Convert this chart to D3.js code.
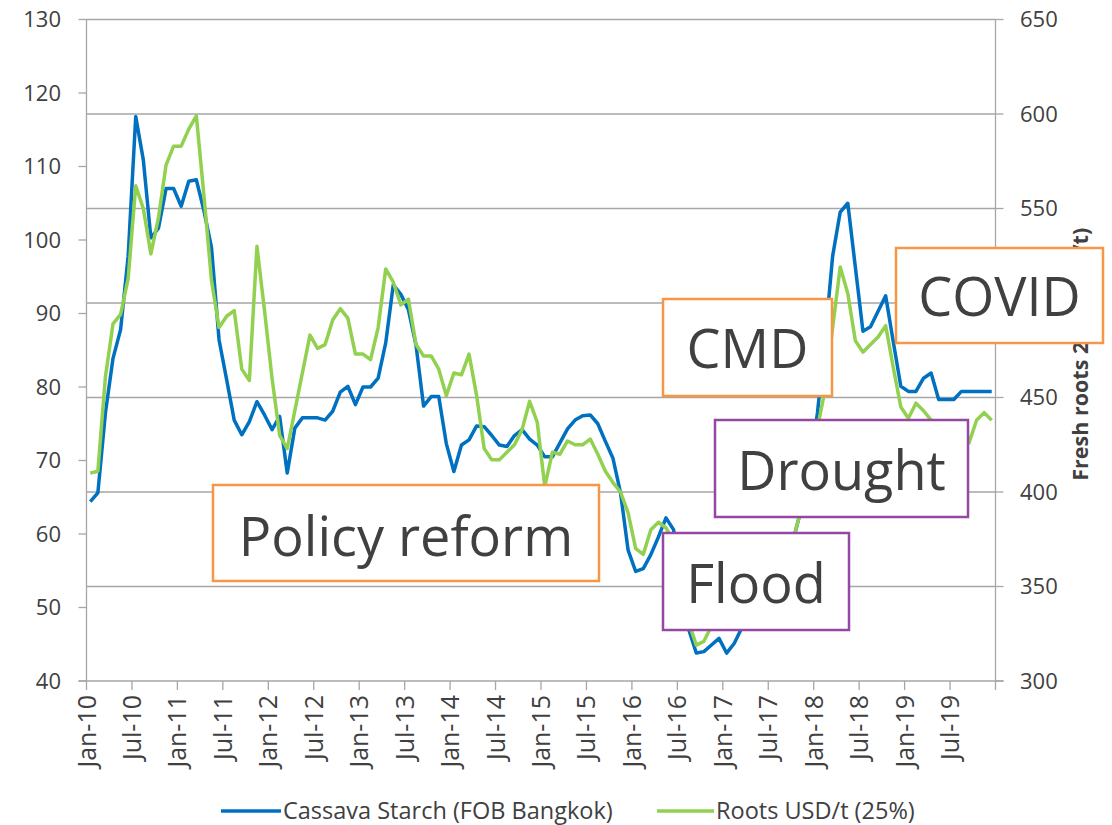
<!DOCTYPE html>
<html>
<head>
<meta charset="utf-8">
<script src="https://cdn.jsdelivr.net/npm/d3@7"></script>
<style>
  body { margin: 0; background: #fff; }
  text { font-family: "Open Sans", sans-serif; fill: #404040; }
</style>
</head>
<body>
<div id="chartDiv"></div>
<script>
// monthly values, Jan-10 .. Dec-19
const starch = [
  64.4, 65.6, 76.5, 83.9, 87.8, 97.8, 116.8, 110.9, 100.3, 101.6, 107.0, 107.0,
  104.6, 108.0, 108.2, 104.0, 99.0, 86.4, 81.0, 75.5, 73.5, 75.3, 78.0, 76.2,
  74.2, 76.0, 68.3, 74.4, 75.8, 75.8, 75.8, 75.5, 76.7, 79.3, 80.1, 77.6,
  80.0, 80.0, 81.2, 86.0, 93.9, 92.6, 90.5, 85.7, 77.4, 78.7, 78.7, 72.3,
  68.5, 72.1, 72.8, 74.7, 74.6, 73.4, 72.1, 71.9, 73.4, 74.2, 72.9, 72.1,
  70.5, 70.5, 72.4, 74.3, 75.5, 76.1, 76.2, 75.0, 72.6, 70.3, 65.6, 57.8,
  54.9, 55.3, 57.2, 59.6, 62.2, 60.6, 53.5, 47.0, 43.8, 44.0, 44.9, 45.8,
  43.8, 45.1, 47.2, 48.5, 50.2, 51.3, 53.1, 54.4, 57.0, 60.0, 64.0, 69.5,
  76.5, 86.5, 97.8, 103.8, 105.0, 96.3, 87.6, 88.2, 90.3, 92.4, 86.2, 80.1,
  79.4, 79.4, 81.2, 81.9, 78.3, 78.3, 78.3, 79.4, 79.4, 79.4, 79.4, 79.4
];
const roots = [
  410, 411, 461, 489, 494, 513, 562, 550, 526, 545, 573, 583,
  583, 592, 599, 557, 512, 487, 493, 496, 465, 459, 530, 496,
  460, 430, 423, 443, 463, 483, 476, 478, 491, 497, 492, 473,
  473, 470, 487, 518, 511, 499, 502, 478, 472, 472, 465, 451,
  463, 462, 473, 451, 423, 417, 417, 421, 425, 433, 448, 437,
  403, 421, 420, 427, 425, 425, 428, 420, 411, 405, 400, 389,
  370, 367, 380, 384, 381, 374, 354, 331, 319, 321, 329, 335,
  339, 345, 348, 353, 356, 361, 364, 368, 372, 378, 393, 411,
  434, 454, 487, 519, 505, 480, 474, 478, 482, 488, 466, 445,
  439, 447, 443, 438, 436, 432, 428, 426, 426, 438, 442, 438
];
const tickLabels = ["Jan-10", "Jul-10", "Jan-11", "Jul-11", "Jan-12", "Jul-12", "Jan-13", "Jul-13",
  "Jan-14", "Jul-14", "Jan-15", "Jul-15", "Jan-16", "Jul-16", "Jan-17", "Jul-17",
  "Jan-18", "Jul-18", "Jan-19", "Jul-19"];
const leftTicks = [40, 50, 60, 70, 80, 90, 100, 110, 120, 130];
const rightTicks = [300, 350, 400, 450, 500, 550, 600, 650];
const seriesNames = ["Cassava Starch (FOB Bangkok)", "Roots USD/t (25%)"];
const rightTitle = "Fresh roots 25% (USD/t)";
const events = ["Policy reform", "CMD", "COVID", "Drought", "Flood"];

// layout
const W = 1112, H = 825;
const plot = { left: 86.5, right: 995.5, top: 19.5, bottom: 681 };
const blue = "#0070c0", green = "#92d050";
const orange = "#f79646", purple = "#9548a3";
const grid = "#a6a6a6";
// box (x0, y0, x1, y1) and text baseline for each event
const boxes = [
  { x0: 213, y0: 485, x1: 599, y1: 581, base: 556, c: orange },
  { x0: 663, y0: 299, x1: 832, y1: 396, base: 368, c: orange },
  { x0: 896, y0: 248, x1: 1103, y1: 343, base: 316, c: orange },
  { x0: 715, y0: 420, x1: 968, y1: 517, base: 490, c: purple },
  { x0: 663, y0: 533, x1: 849, y1: 630, base: 603, c: purple }
];
const legendPos = [{ x0: 221, x1: 281 }, { x0: 657, x1: 714 }];

const svg = d3.select("#chartDiv").append("svg")
  .attr("width", W).attr("height", H);

const x = d3.scaleLinear().domain([0, 120]).range([plot.left, plot.right]);
const yL = d3.scaleLinear().domain([40, 130]).range([plot.bottom, plot.top]);
const yR = d3.scaleLinear().domain([300, 650]).range([plot.bottom, plot.top]);

// gridlines follow the right axis
svg.append("g").selectAll("line")
  .data(rightTicks.slice(1))
  .enter().append("line")
  .attr("x1", plot.left).attr("x2", plot.right)
  .attr("y1", d => yR(d)).attr("y2", d => yR(d))
  .style("stroke", grid).style("stroke-width", 1.3);

// left axis
const gl = svg.append("g");
gl.append("line")
  .attr("x1", plot.left).attr("x2", plot.left)
  .attr("y1", plot.top).attr("y2", plot.bottom)
  .style("stroke", grid).style("stroke-width", 1.3);
gl.selectAll(".tk").data(leftTicks).enter().append("line")
  .attr("x1", plot.left - 8).attr("x2", plot.left)
  .attr("y1", d => yL(d)).attr("y2", d => yL(d))
  .style("stroke", grid).style("stroke-width", 1.3);
gl.selectAll("text").data(leftTicks).enter().append("text")
  .attr("x", 61).attr("y", d => yL(d)).attr("dy", "0.36em")
  .attr("text-anchor", "end").style("font-size", "22px")
  .text(d => d);

// right axis
const gr = svg.append("g");
gr.append("line")
  .attr("x1", plot.right).attr("x2", plot.right)
  .attr("y1", plot.top).attr("y2", plot.bottom)
  .style("stroke", grid).style("stroke-width", 1.3);
gr.selectAll(".tk").data(rightTicks).enter().append("line")
  .attr("x1", plot.right).attr("x2", plot.right + 8)
  .attr("y1", d => yR(d)).attr("y2", d => yR(d))
  .style("stroke", grid).style("stroke-width", 1.3);
gr.selectAll("text").data(rightTicks).enter().append("text")
  .attr("x", 1020).attr("y", d => yR(d)).attr("dy", "0.36em")
  .attr("text-anchor", "start").style("font-size", "22px")
  .text(d => d);
// title sits behind the COVID box, as in the source
gr.append("text")
  .attr("transform", "translate(1088," + ((plot.top + plot.bottom) / 2 + 4) + ") rotate(-90)")
  .attr("text-anchor", "middle")
  .style("font-size", "21.5px").style("font-weight", "bold")
  .text(rightTitle);

// bottom axis
const gb = svg.append("g");
gb.append("line")
  .attr("x1", plot.left - 8).attr("x2", plot.right + 8)
  .attr("y1", plot.bottom).attr("y2", plot.bottom)
  .style("stroke", grid).style("stroke-width", 1.3);
gb.selectAll(".tk").data(d3.range(0, 121, 6)).enter().append("line")
  .attr("x1", d => x(d)).attr("x2", d => x(d))
  .attr("y1", plot.bottom).attr("y2", plot.bottom + 9)
  .style("stroke", grid).style("stroke-width", 1.3);
gb.selectAll("text").data(tickLabels).enter().append("text")
  .attr("transform", (d, i) => "translate(" + x(i * 6) + "," + (plot.bottom + 14) + ") rotate(-90)")
  .attr("dy", "0.36em")
  .attr("text-anchor", "end").style("font-size", "25px")
  .text(d => d);

// lines
const lineL = d3.line().x((d, i) => x(i + 0.5)).y(d => yL(d));
const lineR = d3.line().x((d, i) => x(i + 0.5)).y(d => yR(d));
svg.append("path").datum(starch).attr("d", lineL)
  .style("fill", "none").style("stroke", blue).style("stroke-width", 3.5)
  .style("stroke-linejoin", "round");
svg.append("path").datum(roots).attr("d", lineR)
  .style("fill", "none").style("stroke", green).style("stroke-width", 3.5)
  .style("stroke-linejoin", "round");

// event boxes
const ev = svg.append("g").selectAll("g").data(events).enter().append("g");
ev.append("rect")
  .attr("x", (d, i) => boxes[i].x0).attr("y", (d, i) => boxes[i].y0)
  .attr("width", (d, i) => boxes[i].x1 - boxes[i].x0)
  .attr("height", (d, i) => boxes[i].y1 - boxes[i].y0)
  .style("fill", "#fff").style("stroke", (d, i) => boxes[i].c).style("stroke-width", 2.5);
ev.append("text")
  .attr("x", (d, i) => (boxes[i].x0 + boxes[i].x1) / 2)
  .attr("y", (d, i) => boxes[i].base)
  .attr("text-anchor", "middle").style("font-size", "54px")
  .text(d => d);

// legend
const lg = svg.append("g").selectAll("g").data(seriesNames).enter().append("g")
  .attr("transform", (d, i) => "translate(" + legendPos[i].x0 + ",811)");
lg.append("line").attr("x1", 0).attr("x2", (d, i) => legendPos[i].x1 - legendPos[i].x0)
  .attr("y1", 0).attr("y2", 0)
  .style("stroke", (d, i) => [blue, green][i]).style("stroke-width", 3.5);
lg.append("text").attr("x", (d, i) => legendPos[i].x1 - legendPos[i].x0 + 2).attr("dy", "0.36em")
  .style("font-size", "23.5px").text(d => d);
</script>
</body>
</html>
